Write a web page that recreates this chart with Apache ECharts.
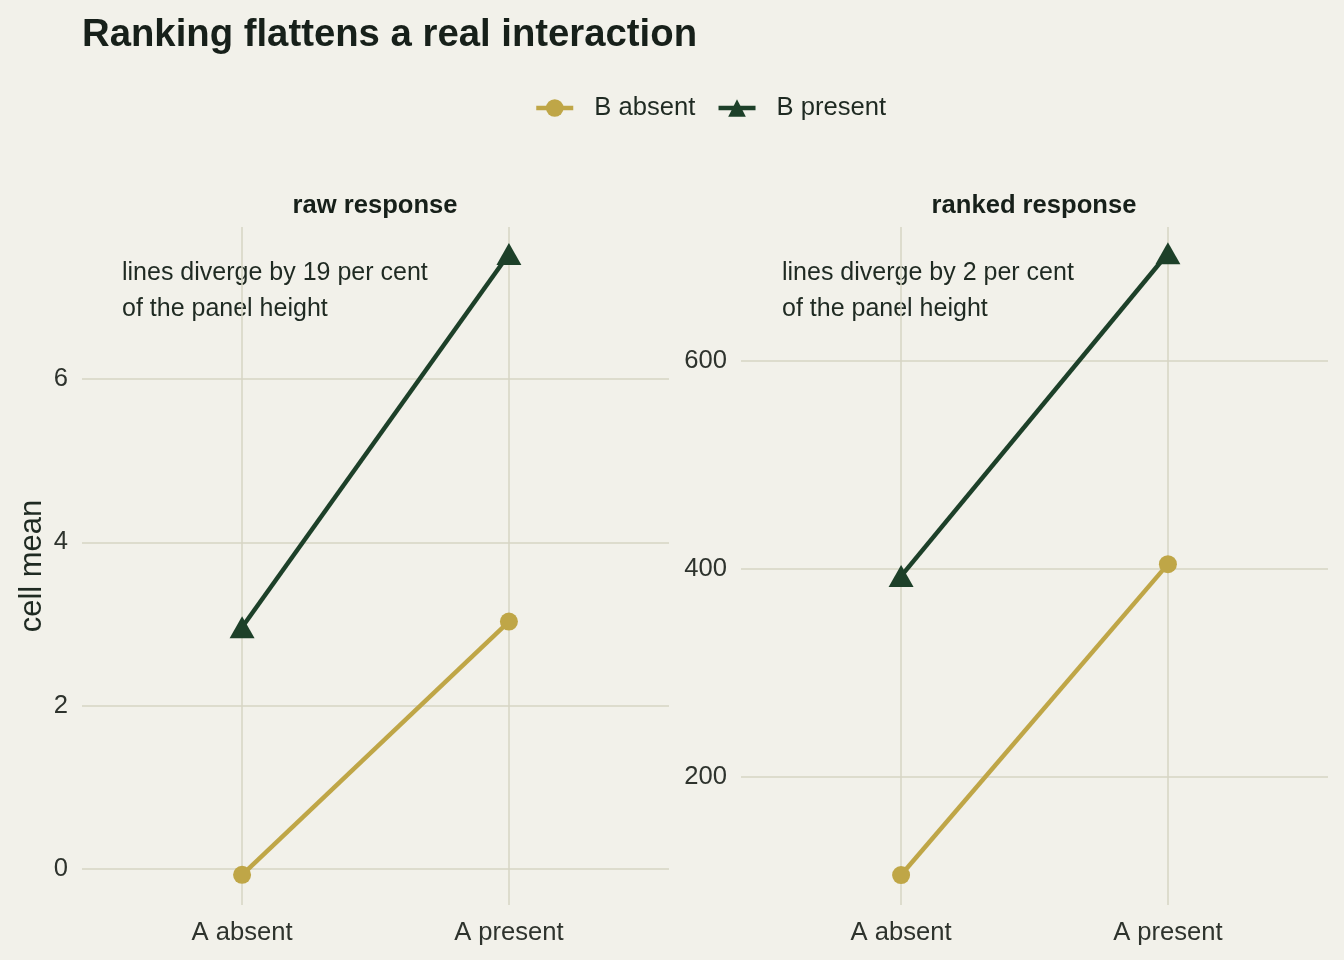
<!DOCTYPE html>
<html>
<head>
<meta charset="utf-8">
<script src="https://cdn.jsdelivr.net/npm/echarts@6/dist/echarts.min.js"></script>
<style>
  html, body { margin: 0; padding: 0; background: #F2F1EA; }
  #chart { width: 1344px; height: 960px; }
</style>
</head>
<body>
<div id="chart"></div>
<script>
// categories and cell means
const categories = ['A absent', 'A present'];
const seriesNames = ['B absent', 'B present'];
const rawAbsent = [-0.07, 3.03];
const rawPresent = [2.96, 7.53];
const rankAbsent = [105.8, 404.8];
const rankPresent = [393.3, 703.8];
const rawTicks = [0, 2, 4, 6];
const rankTicks = [200, 400, 600];
const panelTitles = ['raw response', 'ranked response'];
const notes = ['lines diverge by 19 per cent\nof the panel height', 'lines diverge by 2 per cent\nof the panel height'];

const gold = '#BFA647';
const green = '#1D4029';
const gridCol = '#D6D4C3';
const textCol = '#1F2A22';
const font = 'Liberation Sans, Arial, sans-serif';

function toPoints(vals) {
    return vals.map((v, i) => [i + 1, v]);
}

function xAxisFor(gi) {
    return {
        type: 'value', gridIndex: gi, min: 0.4, max: 2.6,
        axisLine: {show: false},
        axisTick: {show: false, customValues: [1, 2]},
        axisLabel: {
            customValues: [1, 2], margin: 15,
            fontFamily: font, fontSize: 25.6, color: '#2E332D',
            formatter: v => categories[Math.round(v) - 1] || ''
        },
        splitLine: {show: true, lineStyle: {color: gridCol, width: 1.5}}
    };
}

function yAxisFor(gi, lo, hi, ticks, name) {
    return {
        type: 'value', gridIndex: gi, min: lo, max: hi,
        name: name || '', nameLocation: 'middle', nameGap: 34,
        nameTextStyle: {fontFamily: font, fontSize: 31, color: textCol},
        axisLine: {show: false},
        axisTick: {show: false, customValues: ticks},
        axisLabel: {customValues: ticks, margin: 14, fontFamily: font, fontSize: 25.6, color: '#2E332D'},
        splitLine: {show: true, lineStyle: {color: gridCol, width: 1.5}}
    };
}

function lineSeries(name, vals, gi, col, sym, size) {
    return {
        name: name, type: 'line', xAxisIndex: gi, yAxisIndex: gi,
        data: toPoints(vals),
        symbol: sym, symbolSize: size,
        lineStyle: {color: col, width: 4.5},
        itemStyle: {color: col},
        emphasis: {disabled: true},
        animation: false
    };
}

const chart = echarts.init(document.getElementById('chart'));

chart.setOption({
    backgroundColor: '#F2F1EA',
    title: [
        {text: 'Ranking flattens a real interaction', left: 77, top: 11,
         textStyle: {fontFamily: font, fontSize: 38.3, fontWeight: 'bold', color: '#17201A'}},
        {text: panelTitles[0], left: 370, top: 188, textAlign: 'center',
         textStyle: {fontFamily: font, fontSize: 25.6, fontWeight: 'bold', color: '#17201A'}},
        {text: panelTitles[1], left: 1029, top: 188, textAlign: 'center',
         textStyle: {fontFamily: font, fontSize: 25.6, fontWeight: 'bold', color: '#17201A'}}
    ],
    legend: {
        data: seriesNames, top: 90, left: 529,
        itemWidth: 37, itemHeight: 22, itemGap: 21,
        lineStyle: {width: 4.5},
        textStyle: {fontFamily: font, fontSize: 25.6, color: textCol, padding: [0, 0, 0, 16]}
    },
    grid: [
        {left: 82, right: 675, top: 227, bottom: 55},
        {left: 741, right: 16, top: 227, bottom: 55}
    ],
    xAxis: [xAxisFor(0), xAxisFor(1)],
    yAxis: [
        yAxisFor(0, -0.44, 7.86, rawTicks, 'cell mean'),
        yAxisFor(1, 77, 729, rankTicks)
    ],
    graphic: [
        {type: 'text', left: 122, top: 255,
         style: {text: notes[0], font: '25px ' + font, fill: textCol, lineHeight: 36}},
        {type: 'text', left: 782, top: 255,
         style: {text: notes[1], font: '25px ' + font, fill: textCol, lineHeight: 36}}
    ],
    series: [
        lineSeries(seriesNames[0], rawAbsent, 0, gold, 'circle', 18),
        lineSeries(seriesNames[1], rawPresent, 0, green, 'triangle', [25, 22]),
        lineSeries(seriesNames[0], rankAbsent, 1, gold, 'circle', 18),
        lineSeries(seriesNames[1], rankPresent, 1, green, 'triangle', [25, 22])
    ]
});
</script>
</body>
</html>
